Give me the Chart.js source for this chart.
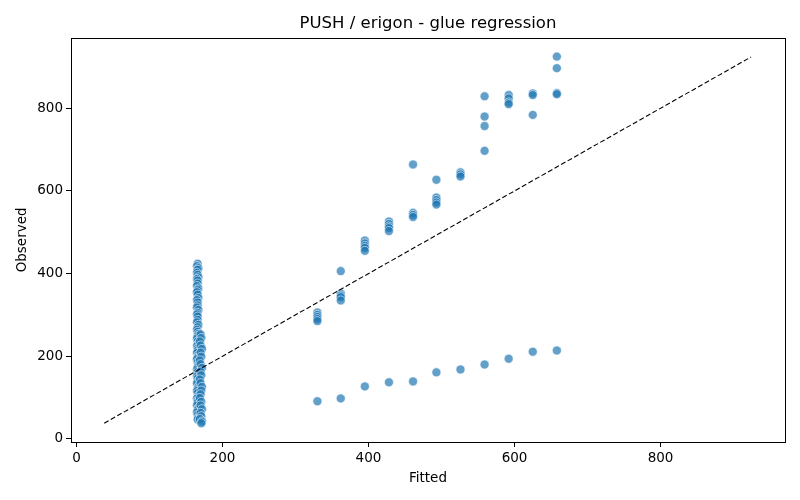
<!DOCTYPE html>
<html>
<head>
<meta charset="utf-8">
<script src="https://cdn.jsdelivr.net/npm/chart.js@4"></script>
<style>
  html, body { margin: 0; padding: 0; background: #fff; }
</style>
</head>
<body>
<canvas id="chart" width="800" height="500"></canvas>
<script>
// --- data ---
const chartTitle = "PUSH / erigon - glue regression";
const xTitle = "Fitted";
const yTitle = "Observed";
const xTicks = [0, 200, 400, 600, 800];
const yTicks = [0, 200, 400, 600, 800];

// the big column near fitted ~ 166
const clusterFitted = [
  166, 165, 167, 166, 165, 166, 167, 165, 166, 166, 165, 167, 166, 165, 166, 167, 165,
  166, 166, 165, 167, 166, 165, 166, 166, 165, 167, 166, 165, 166, 167, 166, 165, 166,
  167, 165, 166, 166, 165, 167, 166, 165, 166, 167, 166, 165, 166, 167, 165, 166, 166,
  165, 167, 166, 165, 166, 167, 165, 166, 166, 165, 167, 166, 165, 166, 167, 166,
  170, 171, 169, 170, 172, 170, 171, 169, 170, 172, 170, 171, 169, 170, 172, 171, 170,
  169, 171, 170, 172, 170, 171, 169, 172, 171
];
const clusterObserved = [
  424, 418, 413, 409, 402, 397, 391, 387, 383, 376, 370, 364, 360, 355, 349, 341, 336,
  330, 323, 318, 312, 305, 301, 296, 288, 282, 276, 270, 264, 259, 254, 249, 243, 236,
  230, 225, 219, 214, 208, 203, 197, 193, 186, 180, 174, 168, 162, 157, 151, 146, 139,
  134, 127, 121, 116, 111, 104, 98, 92, 88, 81, 75, 70, 64, 58, 52, 47,
  253, 244, 236, 226, 218, 209, 199, 190, 181, 172, 163, 154, 144, 135, 126, 117, 108,
  99, 90, 81, 72, 63, 55, 48, 42, 38
];

// the other fitted levels, with their upper and lower observations
const levels = [330, 362, 395, 428, 461, 493, 526, 559, 592, 625, 658];
const upperObserved = [
  [306, 300, 295, 290, 285],
  [406, 352, 347, 343, 335],
  [480, 473, 467, 462, 455],
  [526, 520, 514, 510, 503],
  [664, 547, 542, 537],
  [627, 584, 578, 572, 567],
  [645, 640, 635],
  [829, 780, 757, 697],
  [832, 824, 814, 810],
  [836, 832, 784],
  [925, 897, 837, 834]
];
const lowerObserved = [91, 98, 127, 137, 139, 161, 168, 180, 194, 211, 214];

// the y = x reference line
const refLine = [38, 924];

// --- build the point list ---
const points = [];
clusterFitted.forEach((f, i) => points.push({ x: f, y: clusterObserved[i] }));
levels.forEach((f, i) => {
  upperObserved[i].forEach(o => points.push({ x: f, y: o }));
  points.push({ x: f, y: lowerObserved[i] });
});

// axes frame on all four sides, and centre the title over the plot area
const frame = {
  id: "frame",
  afterLayout(chart) {
    if (chart.titleBlock) {
      chart.titleBlock.left = chart.chartArea.left;
      chart.titleBlock.right = chart.chartArea.right;
    }
  },
  afterDatasetsDraw(chart) {
    const { ctx, chartArea: a } = chart;
    ctx.save();
    ctx.strokeStyle = "#000";
    ctx.lineWidth = 1;
    ctx.strokeRect(Math.round(a.left) + 0.5, Math.round(a.top) + 0.5,
      Math.round(a.right - a.left), Math.round(a.bottom - a.top));
    ctx.restore();
  }
};

const font = "'DejaVu Sans', sans-serif";

new Chart(document.getElementById("chart"), {
  data: {
    datasets: [
      {
        type: "line",
        data: refLine.map(v => ({ x: v, y: v })),
        borderColor: "#000",
        borderWidth: 1.1,
        borderDash: [5, 2.5],
        pointRadius: 0,
        fill: false,
        order: 0,
      },
      {
        type: "scatter",
        data: points,
        backgroundColor: "rgba(31, 119, 180, 0.7)",
        borderColor: "rgba(255, 255, 255, 0.7)",
        borderWidth: 0.8,
        pointRadius: 4.5,
        order: 1,
      },
    ],
  },
  options: {
    responsive: false,
    devicePixelRatio: 1,
    animation: false,
    layout: { padding: { left: 0, right: 15, top: 0, bottom: 0 } },
    plugins: {
      legend: { display: false },
      tooltip: { enabled: false },
      title: {
        display: true,
        text: chartTitle,
        color: "#000",
        font: { family: font, size: 16.5, weight: "normal" },
        padding: { top: 14, bottom: 4 },
      },
    },
    scales: {
      x: {
        type: "linear",
        min: -7.5,
        max: 970.5,
        afterBuildTicks: s => { s.ticks = xTicks.map(v => ({ value: v })); },
        afterFit: s => { s.height = 58; },
        grid: { drawOnChartArea: false, drawTicks: true, tickLength: 5, color: "#000" },
        border: { display: false },
        ticks: { color: "#000", padding: 3, maxRotation: 0, font: { family: font, size: 13.5 } },
        title: {
          display: true, text: xTitle, color: "#000",
          font: { family: font, size: 13.5 },
          padding: { top: 4, bottom: 13 },
        },
      },
      y: {
        type: "linear",
        min: -7.5,
        max: 970.5,
        afterBuildTicks: s => { s.ticks = yTicks.map(v => ({ value: v })); },
        afterFit: s => { s.width = 71; },
        grid: { drawOnChartArea: false, drawTicks: true, tickLength: 5, color: "#000" },
        border: { display: false },
        ticks: { color: "#000", padding: 3, font: { family: font, size: 13.5 } },
        title: {
          display: true, text: yTitle, color: "#000",
          font: { family: font, size: 13.5 },
          padding: { top: 14, bottom: 4 },
        },
      },
    },
  },
  plugins: [frame],
});
</script>
</body>
</html>
